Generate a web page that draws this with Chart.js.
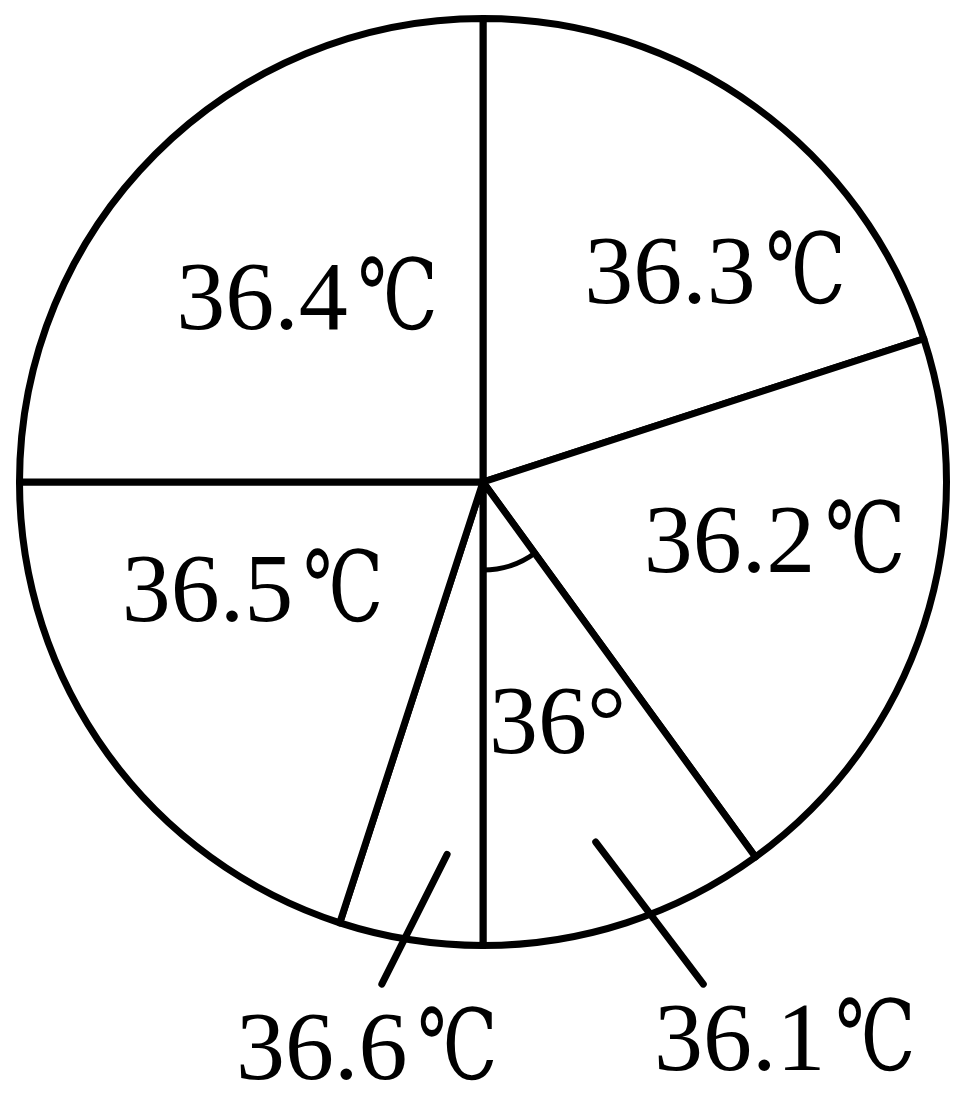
<!DOCTYPE html>
<html>
<head>
<meta charset="utf-8">
<script src="https://cdn.jsdelivr.net/npm/chart.js@4/dist/chart.umd.min.js"></script>
<style>
  html, body { margin: 0; padding: 0; background: #fff; }
  canvas { display: block; }
</style>
</head>
<body>
<canvas id="pieChart" width="962" height="1093"></canvas>
<script>
// slices, clockwise from 12 o'clock
const sliceLabels = ['36.3℃', '36.2℃', '36.1℃', '36.6℃', '36.5℃', '36.4℃'];
const sliceShares = [20, 20, 10, 5, 20, 25];
const markedSlice = 2;
const markedAngleText = '36°';

// where each label sits: t = fraction across the slice, r = fraction of the radius
const labelSpots = [
    { t: 0.41, r: 0.443 },
    { t: 0.657, r: 0.398 },
    { t: 0.55, r: 1.322 },
    { t: 1.25, r: 1.393 },
    { t: 0.708, r: 0.835 },
    { t: 0.294, r: 0.739 }
];
const leaders = {
    2: [{ t: 0.517, r: 0.814 }, { t: 0.342, r: 1.183 }],
    3: [{ t: 0.306, r: 0.807 }, { t: 0.633, r: 1.105 }]
};

const FONT = '98px "Liberation Serif", "DejaVu Serif", "Noto Sans CJK SC", serif';
const UNIT = '℃';

const pointOn = (arc, spot) => {
    const a = arc.startAngle + spot.t * (arc.endAngle - arc.startAngle);
    const r = spot.r * arc.outerRadius;
    return [arc.x + r * Math.cos(a), arc.y + r * Math.sin(a)];
};

// number in the serif face, the ℃ sign squeezed a little to the printed width
const drawLabel = (ctx, text, x, y) => {
    if (!text.endsWith(UNIT)) {
        ctx.fillText(text, x, y);
        return;
    }
    const num = text.slice(0, -UNIT.length);
    ctx.fillText(num, x, y);
    const ux = x + ctx.measureText(num).width + 10;
    const sx = 80 / ctx.measureText(UNIT).width;
    ctx.save();
    ctx.translate(ux, y);
    ctx.scale(sx, 1);
    ctx.fillText(UNIT, 0, 0);
    ctx.restore();
};

const pieLabels = {
    id: 'pieLabels',
    afterDatasetsDraw(chart) {
        const ctx = chart.ctx;
        const arcs = chart.getDatasetMeta(0).data;
        ctx.save();
        ctx.fillStyle = '#000';
        ctx.strokeStyle = '#000';
        ctx.font = FONT;
        ctx.textAlign = 'left';
        ctx.textBaseline = 'alphabetic';

        arcs.forEach((arc, i) => {
            const [x, y] = pointOn(arc, labelSpots[i]);
            drawLabel(ctx, sliceLabels[i], x, y);
            if (leaders[i]) {
                const [x1, y1] = pointOn(arc, leaders[i][0]);
                const [x2, y2] = pointOn(arc, leaders[i][1]);
                ctx.lineWidth = 7;
                ctx.lineCap = 'round';
                ctx.beginPath();
                ctx.moveTo(x1, y1);
                ctx.lineTo(x2, y2);
                ctx.stroke();
            }
        });

        // angle mark on the small slice
        const m = arcs[markedSlice];
        ctx.lineWidth = 5;
        ctx.beginPath();
        ctx.arc(m.x, m.y, m.outerRadius * 0.19, m.startAngle, m.endAngle);
        ctx.stroke();
        const [ax, ay] = pointOn(m, { t: 0.965, r: 0.585 });
        ctx.fillText(markedAngleText, ax, ay);
        ctx.restore();
    }
};

new Chart(document.getElementById('pieChart').getContext('2d'), {
    type: 'pie',
    data: {
        labels: sliceLabels,
        datasets: [{
            data: sliceShares,
            backgroundColor: '#ffffff',
            borderColor: '#000000',
            borderWidth: 7,
            borderJoinStyle: 'round'
        }]
    },
    options: {
        responsive: false,
        animation: false,
        layout: { padding: { left: 16, top: 15, right: 12, bottom: 144 } },
        plugins: {
            legend: { display: false },
            tooltip: { enabled: false }
        }
    },
    plugins: [pieLabels]
});
</script>
</body>
</html>
